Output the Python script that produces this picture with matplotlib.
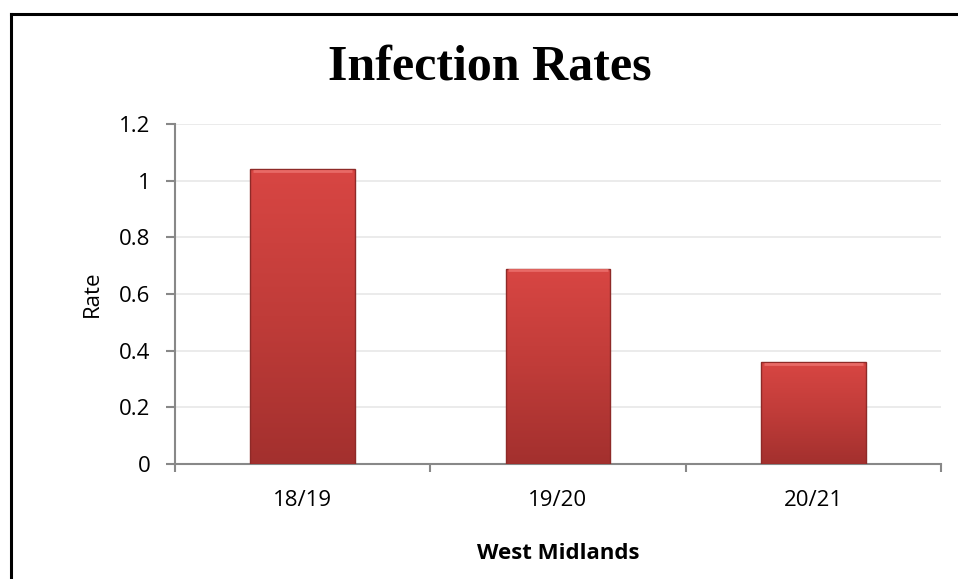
import numpy as np
import matplotlib
matplotlib.use("Agg")
import matplotlib.pyplot as plt
from matplotlib.colors import LinearSegmentedColormap
from matplotlib.lines import Line2D

categories = ["18/19", "19/20", "20/21"]
rates = [1.04, 0.69, 0.36]
yticks = [0, 0.2, 0.4, 0.6, 0.8, 1, 1.2]
ytick_labels = ["0", "0.2", "0.4", "0.6", "0.8", "1", "1.2"]

W, H = 958, 579
fig = plt.figure(figsize=(W / 100, H / 100), dpi=100)
fig.patch.set_facecolor("white")

# outer frame (left and top edges visible)
fig.add_artist(Line2D([11 / W, 11 / W], [0, 1 - 14 / H], transform=fig.transFigure,
                      color="black", lw=2.2, solid_capstyle="projecting"))
fig.add_artist(Line2D([11 / W, 1], [1 - 14 / H, 1 - 14 / H], transform=fig.transFigure,
                      color="black", lw=2.2, solid_capstyle="projecting"))

ax = fig.add_axes([175 / W, 1 - 464 / H, (941 - 175) / W, (464 - 124) / H])
x = np.arange(len(categories))
bars = ax.bar(x, rates, width=0.41, color="none", edgecolor="none", zorder=3)

cmap = LinearSegmentedColormap.from_list("bar", ["#A3302E", "#C03C39", "#D84643"])
grad = np.linspace(0, 1, 256).reshape(-1, 1)
for b in bars:
    x0, y0 = b.get_x(), b.get_y()
    w, h = b.get_width(), b.get_height()
    im = ax.imshow(grad, extent=[x0, x0 + w, y0, y0 + h], origin="lower",
                   cmap=cmap, aspect="auto", zorder=3)
    im.set_clip_path(b)
    ax.add_patch(plt.Rectangle((x0, y0), w, h, fill=False, edgecolor="#8E2A28",
                               lw=1.0, zorder=4))
    ax.plot([x0 + 0.01, x0 + w - 0.01], [y0 + h - 0.006, y0 + h - 0.006],
            color="#E86A66", lw=2.0, zorder=4, solid_capstyle="butt")

ax.set_xlim(-0.5, len(categories) - 0.5)
ax.set_ylim(0, 1.2)
ax.set_yticks(yticks)
ax.set_yticklabels(ytick_labels)
ax.set_xticks(x)
ax.set_xticklabels(categories)
ax.set_xticks(np.arange(-0.5, len(categories)), minor=True)

font = "Open Sans"
for lbl in ax.get_yticklabels() + ax.get_xticklabels():
    lbl.set_fontfamily(font)
    lbl.set_fontsize(16)
    lbl.set_color("black")

ax.tick_params(axis="y", direction="out", length=6.5, width=1.5, color="#888888", pad=11)
ax.tick_params(axis="x", which="major", length=0, pad=18.5)
ax.tick_params(axis="x", which="minor", direction="out", length=6, width=1.5, color="#888888")

ax.grid(axis="y", color="#E8E8E8", lw=1.2, zorder=0)
ax.set_axisbelow(True)
for s in ["top", "right"]:
    ax.spines[s].set_visible(False)
for s in ["left", "bottom"]:
    ax.spines[s].set_color("#888888")
    ax.spines[s].set_linewidth(1.5)

ax.set_ylabel("Rate", fontfamily=font, fontsize=16, labelpad=12)
ax.set_xlabel("West Midlands", fontfamily=font, fontsize=16, fontweight="bold", labelpad=23.5)

fig.text(489.5 / W, 1 - 80 / H, "Infection Rates", ha="center", va="baseline",
         fontfamily="Liberation Serif", fontweight="bold", fontsize=36)

fig.savefig("out.png", dpi=100, facecolor="white")
